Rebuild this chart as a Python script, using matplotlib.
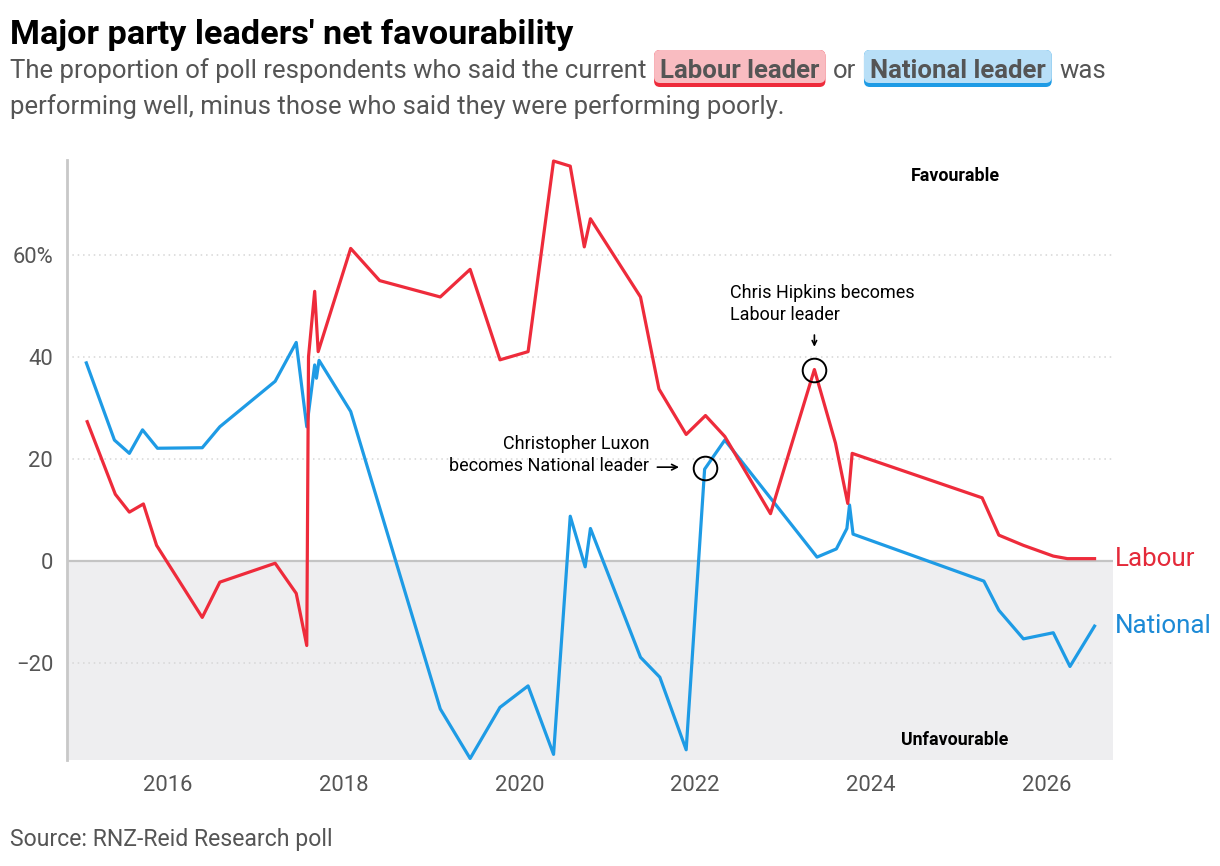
import matplotlib
matplotlib.use("Agg")
import matplotlib.pyplot as plt
from matplotlib.patches import FancyBboxPatch
from matplotlib.transforms import IdentityTransform

plt.rcParams['font.family'] = ['Roboto', 'DejaVu Sans']

# poll dates (decimal years) and net favourability (%)
labour_dates = [2015.08, 2015.40, 2015.56, 2015.72, 2015.87, 2016.39, 2016.59, 2017.22, 2017.46,
                2017.58, 2017.60, 2017.67, 2017.71, 2018.08, 2018.41, 2019.10, 2019.44, 2019.78,
                2020.10, 2020.39, 2020.58, 2020.74, 2020.81, 2021.38, 2021.59, 2021.90, 2022.12,
                2022.34, 2022.86, 2023.36, 2023.60, 2023.74, 2023.79, 2025.27, 2025.46, 2025.74,
                2026.08, 2026.24, 2026.55]
labour_values = [27.3, 13.1, 9.6, 11.2, 3.1, -11.0, -4.1, -0.4, -6.3,
                 -16.5, 40.0, 52.8, 41.0, 61.2, 54.9, 51.7, 57.1, 39.4,
                 41.0, 78.3, 77.3, 61.5, 67.0, 51.7, 33.7, 24.8, 28.5,
                 24.4, 9.3, 37.5, 23.1, 11.3, 21.1, 12.4, 5.1, 3.1,
                 1.0, 0.5, 0.5]

national_dates = [2015.07, 2015.39, 2015.56, 2015.71, 2015.88, 2016.39, 2016.59, 2017.22, 2017.46,
                  2017.58, 2017.67, 2017.69, 2017.72, 2018.08, 2019.10, 2019.44, 2019.78, 2020.10,
                  2020.39, 2020.58, 2020.75, 2020.81, 2021.38, 2021.60, 2021.90, 2022.11, 2022.34,
                  2023.39, 2023.61, 2023.73, 2023.76, 2023.80, 2025.29, 2025.46, 2025.74, 2026.08,
                  2026.27, 2026.55]
national_values = [38.8, 23.7, 21.1, 25.7, 22.1, 22.2, 26.3, 35.2, 42.8,
                   26.3, 38.4, 35.8, 39.3, 29.3, -28.9, -38.6, -28.6, -24.4,
                   -37.8, 8.8, -1.1, 6.4, -18.8, -22.7, -36.9, 18.0, 23.7,
                   0.8, 2.4, 6.4, 11.0, 5.3, -3.9, -9.6, -15.2, -14.0,
                   -20.6, -12.7]

# leadership changes
event_dates = [2022.11, 2023.36]
event_values = [18.2, 37.5]

year_ticks = [2016, 2018, 2020, 2022, 2024, 2026]
value_ticks = [-20, 0, 20, 40, 60]
value_labels = ['\u221220', '0', '20', '40', '60%']

RED = '#ee2b3b'
BLUE = '#1e9be5'
TXT = '#555555'
W, H = 1220, 866

fig = plt.figure(figsize=(W / 100, H / 100), dpi=100)
ax = fig.add_axes([67 / W, 1 - 760 / H, (1113 - 67) / W, 600 / H])
ymin, ymax = -38.9, 78.5
ax.set_xlim(2014.85, 2026.76)
ax.set_ylim(ymin, ymax)

ax.axhspan(ymin, 0, color='#eeeef0', lw=0, zorder=0)
ax.axhline(0, color='#c4c4c4', lw=1.6, zorder=1)
for v in value_ticks:
    if v != 0:
        ax.axhline(v, color='#d6d6d6', lw=1.1, ls=(0, (1, 2.5)), zorder=1)

for s in ['top', 'right', 'bottom']:
    ax.spines[s].set_visible(False)
ax.spines['left'].set_color('#c8c8c8')
ax.spines['left'].set_linewidth(2)

ax.set_xticks(year_ticks)
ax.set_xticklabels([str(y) for y in year_ticks])
ax.set_yticks(value_ticks)
ax.set_yticklabels(value_labels)
ax.tick_params(axis='x', length=0, pad=11, labelsize=15.8, labelcolor=TXT)
ax.tick_params(axis='y', length=0, pad=10, labelsize=15.8, labelcolor=TXT)

ax.plot(national_dates, national_values, color=BLUE, lw=2.3, zorder=3, clip_on=False)
ax.plot(labour_dates, labour_values, color=RED, lw=2.3, zorder=4, clip_on=False)

ax.plot(event_dates, event_values, 'o', ms=17, mfc='none', mec='black', mew=1.4, zorder=5)

ax.text(2021.48, 20.8, 'Christopher Luxon\nbecomes National leader', ha='right', va='center',
        fontsize=13, color='black', linespacing=1.3)
ax.annotate('', xy=(2021.85, 18.4), xytext=(2021.54, 18.4),
            arrowprops=dict(arrowstyle='->', color='black', lw=1.2))
ax.text(2022.40, 50.4, 'Chris Hipkins becomes\nLabour leader', ha='left', va='center',
        fontsize=13, color='black', linespacing=1.3)
ax.annotate('', xy=(2023.36, 41.4), xytext=(2023.36, 44.8),
            arrowprops=dict(arrowstyle='->', color='black', lw=1.2, mutation_scale=8))

ax.text(0.849, 0.973, 'Favourable', transform=ax.transAxes, ha='center', va='center',
        fontsize=12.8, fontweight='bold', color='black')
ax.text(0.849, 0.033, 'Unfavourable', transform=ax.transAxes, ha='center', va='center',
        fontsize=12.8, fontweight='bold', color='black')

ax.text(2026.78, labour_values[-1], 'Labour', color='#e42a3a', fontsize=18.7,
        ha='left', va='center', clip_on=False)
ax.text(2026.78, national_values[-1], 'National', color='#1c8ad6', fontsize=18.7,
        ha='left', va='center', clip_on=False)

# header text, laid out in pixels
ident = IdentityTransform()
renderer = fig.canvas.get_renderer()


def px_text(x, y, s, **kw):
    return fig.text(x, H - y, s, transform=ident, **kw)


def fit(x, y, s, width, size, **kw):
    t = px_text(x, y, s, fontsize=size, **kw)
    w = t.get_window_extent(renderer).width
    t.set_fontsize(size * width / w)
    return t


fit(10, 44, "Major party leaders' net favourability", 563, 22,
    fontweight='bold', color='black', va='baseline')
line2 = fit(10, 114, 'performing well, minus those who said they were performing poorly.', 776, 16,
            color=TXT, va='baseline')
sub_size = line2.get_fontsize()


def box(x0, x1, fill, edge):
    fig.patches.append(FancyBboxPatch((x0, H - 87), x1 - x0, 37, boxstyle='round,pad=0,rounding_size=6',
                                      transform=ident, fc=edge, ec='none', zorder=1))
    fig.patches.append(FancyBboxPatch((x0, H - 83), x1 - x0, 33, boxstyle='round,pad=0,rounding_size=6',
                                      transform=ident, fc=fill, ec='none', zorder=2))


x = 10
pieces = [('The proportion of poll respondents who said the current', None),
          ('Labour leader', ('#f9bcc1', RED)),
          ('or', None),
          ('National leader', ('#b8dff7', BLUE)),
          ('was', None)]
space = sub_size * 0.3
for s, hl in pieces:
    if hl is None:
        t = px_text(x, 78, s, fontsize=sub_size, color=TXT, va='baseline', zorder=3)
        x = t.get_window_extent(renderer).x1 + space + 2
    else:
        t = px_text(x + 6, 78, s, fontsize=sub_size, color=TXT, fontweight='bold', va='baseline', zorder=3)
        x1 = t.get_window_extent(renderer).x1 + 6
        box(x, x1, hl[0], hl[1])
        x = x1 + space + 2

fit(10, 846, 'Source: RNZ-Reid Research poll', 323, 16, color=TXT, va='baseline')

fig.savefig('out.png', dpi=100)
